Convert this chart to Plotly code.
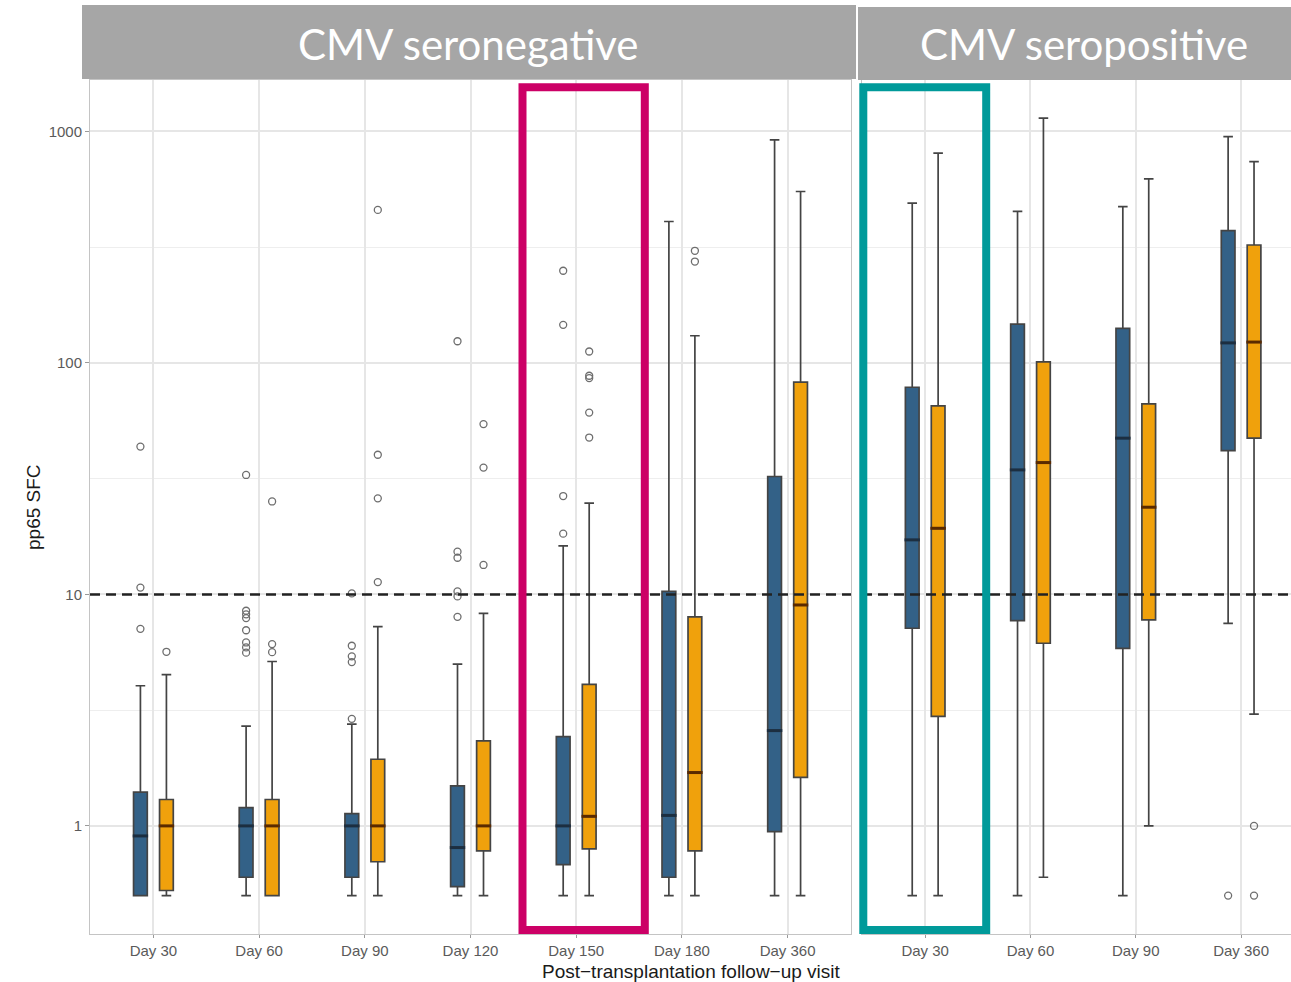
import plotly.graph_objects as go

# ---------------- data ----------------
neg_days = ["Day 30", "Day 60", "Day 90", "Day 120", "Day 150", "Day 180", "Day 360"]
pos_days = ["Day 30", "Day 60", "Day 90", "Day 360"]

# CMV seronegative, first group (blue)
neg_a_q1 = [0.5, 0.60, 0.60, 0.547, 0.68, 0.60, 0.945]
neg_a_med = [0.905, 1.0, 1.0, 0.806, 1.0, 1.11, 2.58]
neg_a_q3 = [1.40, 1.20, 1.13, 1.49, 2.43, 10.3, 32.3]
neg_a_lo = [0.5, 0.5, 0.5, 0.5, 0.5, 0.5, 0.5]
neg_a_hi = [4.03, 2.70, 2.75, 5.0, 16.2, 408, 919]
neg_a_out = [[43.5, 10.7, 7.1],
             [32.8, 8.5, 8.2, 7.9, 7.0, 6.2, 5.9, 5.6],
             [10.1, 6.0, 5.4, 5.1, 2.9],
             [124, 15.3, 14.4, 10.3, 9.8, 8.0],
             [250, 146, 26.6, 18.3],
             [], []]

# CMV seronegative, second group (orange)
neg_b_q1 = [0.526, 0.5, 0.70, 0.78, 0.795, 0.78, 1.62]
neg_b_med = [1.0, 1.0, 1.0, 1.0, 1.10, 1.70, 9.0]
neg_b_q3 = [1.30, 1.30, 1.94, 2.33, 4.09, 8.0, 82.6]
neg_b_lo = [0.5, 0.5, 0.5, 0.5, 0.5, 0.5, 0.5]
neg_b_hi = [4.5, 5.13, 7.26, 8.28, 24.8, 131, 550]
neg_b_out = [[5.65],
             [25.2, 6.1, 5.63],
             [458, 40.1, 26.0, 11.3],
             [54.4, 35.3, 13.4],
             [112, 88, 86, 61, 47.6],
             [305, 274],
             []]

# CMV seropositive, first group (blue)
pos_a_q1 = [7.14, 7.7, 5.85, 41.8]
pos_a_med = [17.2, 34.5, 47.3, 122]
pos_a_q3 = [78.5, 147, 141, 373]
pos_a_lo = [0.5, 0.5, 0.5, 7.5]
pos_a_hi = [490, 451, 473, 950]
pos_a_out = [[], [], [], [0.5]]

# CMV seropositive, second group (orange)
pos_b_q1 = [2.97, 6.15, 7.76, 47.3]
pos_b_med = [19.3, 37.1, 23.8, 123]
pos_b_q3 = [65.2, 101, 66.5, 323]
pos_b_lo = [0.5, 0.6, 1.0, 3.04]
pos_b_hi = [805, 1140, 623, 741]
pos_b_out = [[], [], [], [1.0, 0.5]]

threshold = 10
y_ticks = [1, 10, 100, 1000]
y_minor = [10 ** 0.5, 10 ** 1.5, 10 ** 2.5]

# ---------------- style ----------------
W, H = 1291, 982
BLUE = "#336187"
ORANGE = "#F0A10C"
EDGE = "#444444"
GRID = "#e6e6e6"
BORDER = "#c4c4c4"
DODGE = 0.123
BOX_W = 0.13


def px_x(p):
    return p / W


def px_y(p):
    return 1 - p / H


fig = go.Figure()


def add_group(days, q1, med, q3, lo, hi, outs, shift, fill, med_col, xa, ya):
    pos = [i + 1 + shift for i in range(len(days))]
    fig.add_trace(go.Box(
        x=pos, q1=q1, median=med, q3=q3, lowerfence=lo, upperfence=hi,
        width=BOX_W, whiskerwidth=0.7, fillcolor=fill,
        line=dict(color=EDGE, width=1.7), boxpoints=False,
        xaxis=xa, yaxis=ya, hoverinfo="skip", showlegend=False))
    # heavier median bar on top of each box
    fig.add_trace(go.Scatter(
        x=pos, y=med, mode="markers", xaxis=xa, yaxis=ya,
        marker=dict(symbol="line-ew", size=11, color=med_col,
                    line=dict(width=3, color=med_col)),
        hoverinfo="skip", showlegend=False))
    ox, oy = [], []
    for p, vals in zip(pos, outs):
        for v in vals:
            ox.append(p)
            oy.append(v)
    fig.add_trace(go.Scatter(
        x=ox, y=oy, mode="markers", xaxis=xa, yaxis=ya,
        marker=dict(symbol="circle-open", size=7, color="#6e6e6e",
                    line=dict(width=1.3, color="#6e6e6e")),
        hoverinfo="skip", showlegend=False))


add_group(neg_days, neg_a_q1, neg_a_med, neg_a_q3, neg_a_lo, neg_a_hi, neg_a_out, -DODGE, BLUE, "#1c2e40", "x", "y")
add_group(neg_days, neg_b_q1, neg_b_med, neg_b_q3, neg_b_lo, neg_b_hi, neg_b_out, DODGE, ORANGE, "#5a2a00", "x", "y")
add_group(pos_days, pos_a_q1, pos_a_med, pos_a_q3, pos_a_lo, pos_a_hi, pos_a_out, -DODGE, BLUE, "#1c2e40", "x2", "y2")
add_group(pos_days, pos_b_q1, pos_b_med, pos_b_q3, pos_b_lo, pos_b_hi, pos_b_out, DODGE, ORANGE, "#5a2a00", "x2", "y2")

y_dom = [px_y(934), px_y(80)]
y_range = [-0.467, 3.222]
tickfont = dict(family="Liberation Sans, Arial, sans-serif", size=15, color="#5a5a5a")

xcommon = dict(showgrid=True, gridcolor=GRID, gridwidth=1.5, zeroline=False,
               showline=True, linecolor=BORDER, linewidth=1, mirror=True,
               ticks="outside", ticklen=3, tickcolor="#9a9a9a",
               tickfont=tickfont)
ycommon = dict(type="log", range=y_range, domain=y_dom, showgrid=True,
               gridcolor=GRID, gridwidth=1.5, zeroline=False,
               showline=True, linecolor=BORDER, linewidth=1, mirror=True,
               tickmode="array", tickvals=y_ticks,
               minor=dict(tickmode="array", tickvals=y_minor, showgrid=True,
                          gridcolor="#eeeeee", gridwidth=1, ticks=""))

fig.update_layout(
    width=W, height=H, margin=dict(l=0, r=0, t=0, b=0),
    paper_bgcolor="white", plot_bgcolor="white", showlegend=False,
    xaxis=dict(domain=[px_x(90), px_x(851)], range=[0.4, len(neg_days) + 0.6],
               tickmode="array", tickvals=list(range(1, len(neg_days) + 1)),
               ticktext=neg_days, anchor="y", **xcommon),
    xaxis2=dict(domain=[px_x(862), 1], range=[0.4, 0.4 + (W - 862) / 105.3],
                tickmode="array", tickvals=list(range(1, len(pos_days) + 1)),
                ticktext=pos_days, anchor="y2", **xcommon),
    yaxis=dict(anchor="x", ticks="outside", ticklen=4, tickcolor="#9a9a9a",
               tickfont=tickfont, ticktext=[str(v) for v in y_ticks], **ycommon),
    yaxis2=dict(anchor="x2", matches="y", showticklabels=False, ticks="", **ycommon),
)

shapes = []
# threshold line in each panel
for xr, yr in (("x domain", "y"), ("x2 domain", "y2")):
    shapes.append(dict(type="line", xref=xr, yref=yr, x0=0, x1=1,
                       y0=threshold, y1=threshold,
                       line=dict(color="#222222", width=2.5, dash="10px,6px")))

# facet strips
STRIP = "#a6a6a6"
shapes.append(dict(type="rect", xref="paper", yref="paper", layer="above",
                   x0=px_x(82), x1=px_x(856), y0=px_y(79), y1=px_y(5),
                   fillcolor=STRIP, line=dict(width=0)))
shapes.append(dict(type="rect", xref="paper", yref="paper", layer="above",
                   x0=px_x(858), x1=1, y0=px_y(80), y1=px_y(7),
                   fillcolor=STRIP, line=dict(width=0)))

# highlight frames
shapes.append(dict(type="rect", xref="paper", yref="paper", layer="above",
                   x0=px_x(522.5), x1=px_x(644.8), y0=px_y(930), y1=px_y(87.2),
                   line=dict(color="#CC0066", width=8), fillcolor="rgba(0,0,0,0)"))
shapes.append(dict(type="rect", xref="paper", yref="paper", layer="above",
                   x0=px_x(863.3), x1=px_x(986.2), y0=px_y(930), y1=px_y(87.2),
                   line=dict(color="#009A9A", width=8), fillcolor="rgba(0,0,0,0)"))
fig.update_layout(shapes=shapes)

strip_font = dict(family="Lato, Open Sans, sans-serif", size=42, color="white")
title_font = dict(family="Liberation Sans, Arial, sans-serif", size=19, color="#1a1a1a")
fig.update_layout(annotations=[
    dict(text="CMV seronegative", xref="paper", yref="paper",
         x=px_x(468.5), y=px_y(44), xanchor="center", yanchor="middle",
         showarrow=False, font=strip_font),
    dict(text="CMV seropositive", xref="paper", yref="paper",
         x=px_x(1084), y=px_y(44), xanchor="center", yanchor="middle",
         showarrow=False, font=strip_font),
    dict(text="Post\u2212transplantation follow\u2212up visit", xref="paper", yref="paper",
         x=px_x(692), y=px_y(971), xanchor="center", yanchor="middle",
         showarrow=False, font=title_font),
    dict(text="pp65 SFC", xref="paper", yref="paper", textangle=-90,
         x=px_x(33), y=px_y(507), xanchor="center", yanchor="middle",
         showarrow=False, font=title_font),
])

fig.write_html("out.html")
